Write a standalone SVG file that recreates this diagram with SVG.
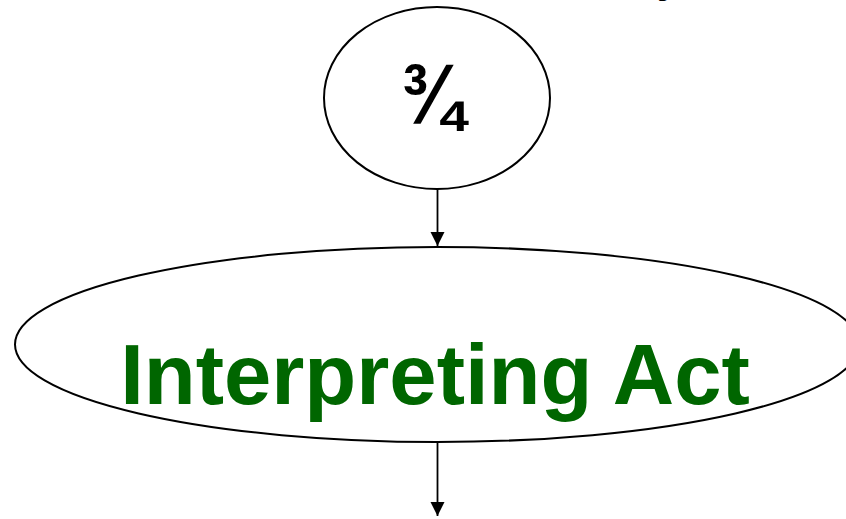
<svg xmlns="http://www.w3.org/2000/svg" width="846" height="519" viewBox="0 0 846 519">
  <defs>
    <marker id="arrow" markerWidth="14" markerHeight="16" refX="14" refY="7" orient="auto" markerUnits="userSpaceOnUse">
      <path d="M0,0 L14,7 L0,14 Z" fill="#000"/>
    </marker>
    <style>
      .node { fill: #fff; stroke: #000; stroke-width: 2; }
      .edge { stroke: #000; stroke-width: 1.8; fill: none; marker-end: url(#arrow); }
      .lbl { font-family: "Liberation Sans", Arial, sans-serif; font-weight: bold; text-anchor: middle; }
    </style>
  </defs>
  <rect width="846" height="519" fill="#fff"/>
  <text class="lbl" x="668" y="-7" font-size="40" fill="#000">y</text>
  <g id="connectors">
    <line class="edge" x1="437.5" y1="189" x2="437.5" y2="246"/>
    <line class="edge" x1="437.5" y1="442" x2="437.5" y2="516"/>
  </g>
  <g id="node-fraction">
    <ellipse class="node" cx="437" cy="98" rx="113" ry="91"/>
    <text class="lbl" transform="translate(432,124) scale(0.88,1)" font-size="86" fill="#000">¾</text>
  </g>
  <g id="node-interpreting">
    <ellipse class="node" cx="437" cy="344.5" rx="422" ry="97.5"/>
    <text class="lbl" x="435" y="404" font-size="85" fill="#006600">Interpreting Act</text>
  </g>
</svg>
